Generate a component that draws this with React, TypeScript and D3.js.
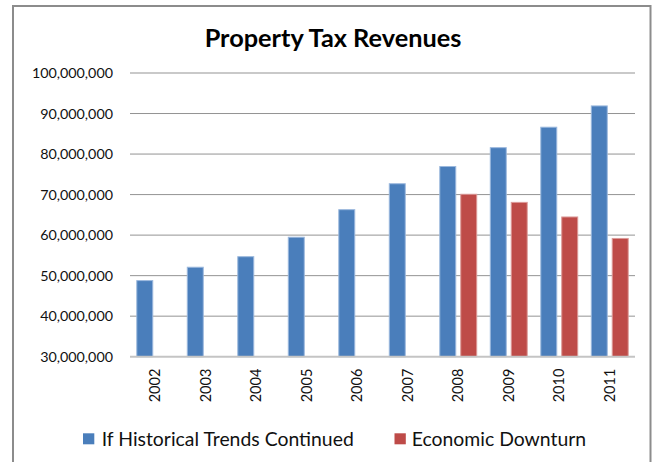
import React from "react";
import * as d3 from "d3";

const years = ["2002", "2003", "2004", "2005", "2006", "2007", "2008", "2009", "2010", "2011"];
const historical = [48.9e6, 52.2e6, 54.8e6, 59.6e6, 66.4e6, 72.8e6, 77.05e6, 81.7e6, 86.75e6, 92.0e6];
const downturn: (number | null)[] = [null, null, null, null, null, null, 70.2e6, 68.2e6, 64.6e6, 59.3e6];
const seriesNames = ["If Historical Trends Continued", "Economic Downturn"];
const seriesColors = ["#4a7ebb", "#be4b48"];
const seriesEdges = ["#9bb8dd", "#dc9a98"];
const yTicks = [30e6, 40e6, 50e6, 60e6, 70e6, 80e6, 90e6, 100e6];
const title = "Property Tax Revenues";

const W = 655;
const H = 462;
const FONT = "Lato, 'Open Sans', sans-serif";

export default function App() {
  const plot = { left: 130, right: 635, top: 73, bottom: 356.7 };
  const x0 = d3.scaleBand<string>().domain(years).range([plot.left, plot.right]).paddingInner(0).paddingOuter(0);
  const x1 = d3
    .scaleBand<string>()
    .domain(seriesNames)
    .range([0, x0.bandwidth()])
    .paddingInner(0.19)
    .paddingOuter(0.3);
  const y = d3.scaleLinear().domain([30e6, 100e6]).range([plot.bottom, plot.top]);
  const fmt = d3.format(",");
  const data = [historical, downturn];

  return (
    <svg
      width={W}
      height={H}
      viewBox={`0 0 ${W} ${H}`}
      style={{ position: "absolute", left: 0, top: 0, background: "#fff" }}
      fontFamily={FONT}
    >
      <rect x={0} y={0} width={W} height={H} fill="#fff" />
      <rect x={13} y={6} width={637.5} height={480} fill="none" stroke="#8c8c8c" strokeWidth={2} />
      <text x={333} y={46.5} textAnchor="middle" fontSize={25.3} fontWeight={700} fill="#000">
        {title}
      </text>
      {yTicks.map((t) => (
        <g key={t}>
          {t !== 30e6 && (
            <line x1={plot.left} x2={plot.right} y1={y(t)} y2={y(t)} stroke="#939393" strokeWidth={1} />
          )}
          <text x={113} y={y(t)} dy="0.36em" textAnchor="end" fontSize={14.3} fill="#111">
            {fmt(t)}
          </text>
        </g>
      ))}
      {years.map((yr, i) => (
        <g key={yr}>
          {data.map((s, si) => {
            const v = s[i];
            if (v == null) return null;
            const bx = (x0(yr) as number) + (x1(seriesNames[si]) as number);
            return (
              <rect
                key={si}
                x={bx + 0.5}
                y={y(v) + 0.5}
                width={x1.bandwidth() - 1}
                height={y(30e6) - y(v) - 0.5}
                fill={seriesColors[si]}
                stroke={seriesEdges[si]}
                strokeWidth={1}
              />
            );
          })}
          <text
            transform={`translate(${(x0(yr) as number) + x0.bandwidth() / 2},${plot.bottom + 12}) rotate(-90)`}
            textAnchor="end"
            dy="0.36em"
            fontSize={14.5}
            fill="#111"
          >
            {yr}
          </text>
        </g>
      ))}
      <line x1={plot.left} x2={plot.right} y1={plot.bottom} y2={plot.bottom} stroke="#c4c4c4" strokeWidth={2} />
      <g>
        <rect x={83} y={433.3} width={11.3} height={11} fill={seriesColors[0]} />
        <text x={101.7} y={446} fontSize={19.4} fill="#111">
          {seriesNames[0]}
        </text>
        <rect x={394.5} y={433.3} width={11.3} height={11} fill={seriesColors[1]} />
        <text x={411.7} y={446} fontSize={19.4} fill="#111">
          {seriesNames[1]}
        </text>
      </g>
    </svg>
  );
}
